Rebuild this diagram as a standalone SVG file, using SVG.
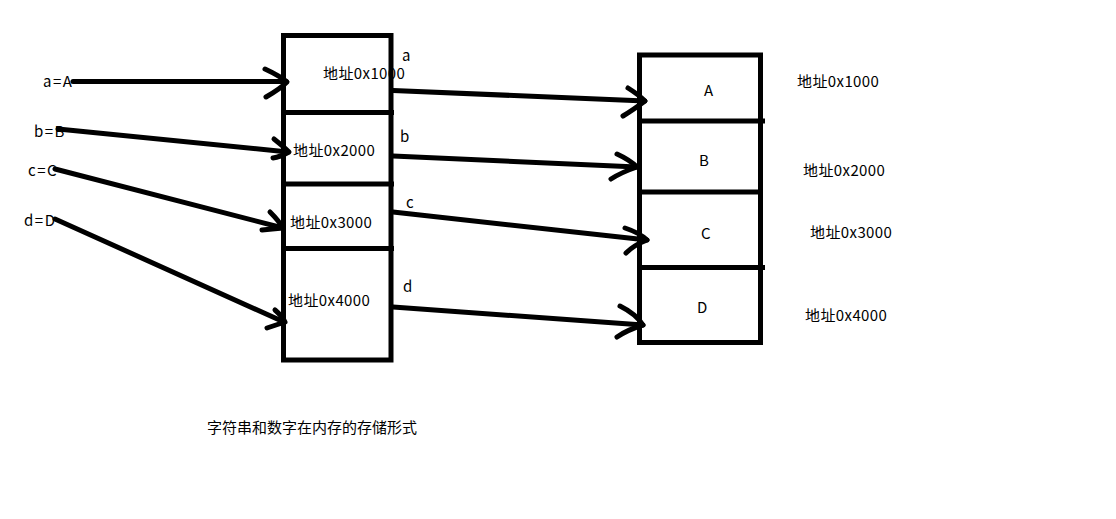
<svg xmlns="http://www.w3.org/2000/svg" width="1116" height="519" viewBox="0 0 1116 519">
<style>
.t{font-family:"Noto Sans CJK SC","Noto Sans",sans-serif;font-size:15px;fill:#000;letter-spacing:0.4px}
.cap{letter-spacing:0}
.box{fill:none;stroke:#000;stroke-width:5}
.ln{fill:none;stroke:#000;stroke-width:5;stroke-linecap:round;stroke-linejoin:round}
</style>
<rect width="1116" height="519" fill="#fff"/>
<g id="leftLabels">
<text class="t" x="43" y="87" style="letter-spacing:1.5px">a=A</text>
<text class="t" x="34" y="137" style="letter-spacing:1.5px">b=B</text>
<text class="t" x="28" y="176" style="letter-spacing:1.5px">c=C</text>
<text class="t" x="24" y="226" style="letter-spacing:1.5px">d=D</text>
</g>
<g id="memLeft">
<rect class="box" x="283.5" y="35.5" width="107.5" height="324.5"/>
<line class="box" x1="283.5" y1="112.5" x2="394" y2="112.5"/>
<line class="box" x1="283.5" y1="184" x2="394" y2="184"/>
<line class="box" x1="283.5" y1="248.5" x2="394" y2="248.5"/>
<text class="t" x="323" y="79">地址0x1000</text>
<text class="t" x="293" y="156">地址0x2000</text>
<text class="t" x="290" y="228">地址0x3000</text>
<text class="t" x="288" y="306">地址0x4000</text>
</g>
<g id="ptrLabels">
<text class="t" x="402" y="61">a</text>
<text class="t" x="400" y="142">b</text>
<text class="t" x="406" y="208">c</text>
<text class="t" x="403" y="292">d</text>
</g>
<g id="memRight">
<rect class="box" x="639.5" y="55" width="121" height="287.5"/>
<line class="box" x1="639.5" y1="121" x2="765" y2="121"/>
<line class="box" x1="639.5" y1="192" x2="761" y2="192"/>
<line class="box" x1="639.5" y1="267.5" x2="765" y2="267.5"/>
<text class="t" x="704" y="96">A</text>
<text class="t" x="699" y="166">B</text>
<text class="t" x="701" y="239">C</text>
<text class="t" x="697" y="313">D</text>
</g>
<g id="addrRight">
<text class="t" x="797" y="87">地址0x1000</text>
<text class="t" x="803" y="176">地址0x2000</text>
<text class="t" x="810" y="238">地址0x3000</text>
<text class="t" x="805" y="321">地址0x4000</text>
</g>
<g id="connectors">
<path class="ln" d="M73 81.5 L286 81.5"/>
<path class="ln" d="M265 69 Q280 76 287 82 Q280 89 266 97"/>
<path class="ln" d="M58 129 L288 152"/>
<path class="ln" d="M274 139 Q283 146 289 152 Q280 157 273 158"/>
<path class="ln" d="M55 169 L283 228"/>
<path class="ln" d="M270 212 Q279 221 283 228 Q272 229 262 230"/>
<path class="ln" d="M55 219 L284 322"/>
<path class="ln" d="M275 310 Q282 316 285 322 Q276 325 267 328"/>
<path class="ln" d="M393 90.5 L645 101"/>
<path class="ln" d="M628 88 Q639 95 645 101 Q633 110 623 116"/>
<path class="ln" d="M393 156 L637 167"/>
<path class="ln" d="M617 154 Q630 160 637 167 Q622 172 611 179"/>
<path class="ln" d="M393 212 L647 240"/>
<path class="ln" d="M625 228 Q640 233 647 240 Q634 245 626 253"/>
<path class="ln" d="M393 307 L643 325"/>
<path class="ln" d="M620 306 Q636 314 643 325 Q627 330 617 337"/>
</g>
<g id="caption">
<text class="t cap" x="207" y="433">字符串和数字在内存的存储形式</text>
</g>
</svg>
